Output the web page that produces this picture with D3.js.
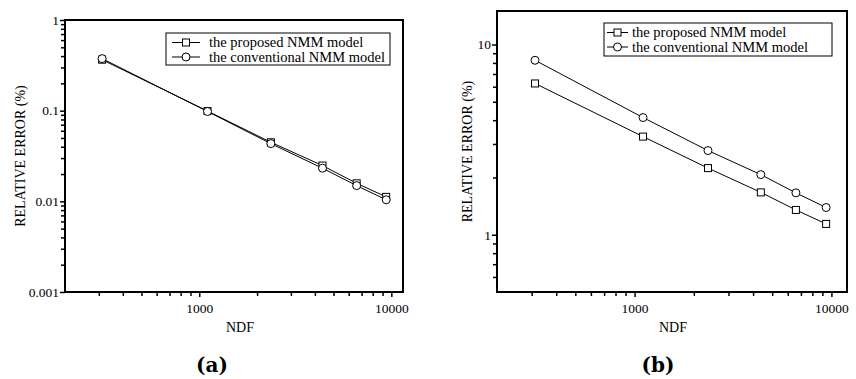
<!DOCTYPE html>
<html>
<head>
<meta charset="utf-8">
<script src="https://cdn.jsdelivr.net/npm/d3@7"></script>
<style>
  body { margin: 0; background: #fff; }
  svg { display: block; }
  text { font-family: "Liberation Serif", "Times New Roman", serif; fill: #000; }
</style>
</head>
<body>
<svg id="chart" width="856" height="379"></svg>
<script>
// NDF values (same for both panels)
var ndf = [312, 1104, 2360, 4380, 6600, 9400]

// panel (a)
var proposedA = [0.365, 0.099, 0.0448, 0.0248, 0.0158, 0.0112]
var conventionalA = [0.375, 0.098, 0.0433, 0.0232, 0.0149, 0.0104]

// panel (b)
var proposedB = [6.24, 3.28, 2.24, 1.67, 1.35, 1.14]
var conventionalB = [8.26, 4.13, 2.77, 2.07, 1.66, 1.39]

var seriesNames = ["the proposed NMM model", "the conventional NMM model"]
var xMajorTicks = [1000, 10000]
var yMajorTicksA = [0.001, 0.01, 0.1, 1]
var yMajorTicksB = [1, 10]
var panelLabels = ["(a)", "(b)"]

var svg = d3.select("#chart")

var panels = [
    {
        x0: 65, x1: 403, y0: 292, y1: 20,
        xDomain: [200, 11500], yDomain: [0.001, 1],
        yTicks: yMajorTicksA,
        series: [proposedA, conventionalA],
        legend: { x: 166, y: 33, w: 224, h: 32, lineL: 6, lineR: 34, textX: 43 },
        yTitleX: 20, ndfX: 240, label: panelLabels[0], labelX: 212
    },
    {
        x0: 497, x1: 847, y0: 292, y1: 11,
        xDomain: [200, 12000], yDomain: [0.5, 15],
        yTicks: yMajorTicksB,
        series: [proposedB, conventionalB],
        legend: { x: 604, y: 23, w: 228, h: 33, lineL: 3, lineR: 24, textX: 28 },
        yTitleX: 467, ndfX: 673, label: panelLabels[1], labelX: 658
    }
]

function minorTicks(domain) {
    var out = []
    var lo = Math.floor(Math.log10(domain[0])), hi = Math.ceil(Math.log10(domain[1]))
    for (var e = lo; e <= hi; e++) {
        for (var m = 2; m <= 9; m++) {
            var v = m * Math.pow(10, e)
            if (v > domain[0] && v < domain[1]) out.push(v)
        }
    }
    return out
}

function drawMarker(g, type, cx, cy) {
    if (type == 0) {
        g.append("rect")
            .attr("x", cx - 3.5).attr("y", cy - 3.5)
            .attr("width", 7).attr("height", 7)
            .attr("fill", "#fff").attr("stroke", "#000").attr("stroke-width", 1)
    } else {
        g.append("circle")
            .attr("cx", cx).attr("cy", cy).attr("r", 4)
            .attr("fill", "#fff").attr("stroke", "#000").attr("stroke-width", 1)
    }
}

panels.forEach(function(p) {
    var x = d3.scaleLog().domain(p.xDomain).range([p.x0, p.x1])
    var y = d3.scaleLog().domain(p.yDomain).range([p.y0, p.y1])

    var g = svg.append("g")

    // x axis: major + minor ticks
    g.append("g").attr("transform", "translate(0," + p.y0 + ")")
        .call(d3.axisBottom(x).tickValues(xMajorTicks).tickFormat(d3.format("d")).tickSize(5).tickPadding(6))
    g.append("g").attr("transform", "translate(0," + p.y0 + ")")
        .call(d3.axisBottom(x).tickValues(minorTicks(p.xDomain).filter(function(v) { return xMajorTicks.indexOf(v) < 0 })).tickFormat("").tickSize(4))

    // y axis
    g.append("g").attr("transform", "translate(" + p.x0 + ",0)")
        .call(d3.axisLeft(y).tickValues(p.yTicks).tickFormat(function(d) { return String(+d.toPrecision(3)) }).tickSize(5).tickPadding(1))
    g.append("g").attr("transform", "translate(" + p.x0 + ",0)")
        .call(d3.axisLeft(y).tickValues(minorTicks(p.yDomain).filter(function(v) { return p.yTicks.indexOf(v) < 0 })).tickFormat("").tickSize(4))

    g.selectAll(".domain").remove()
    g.selectAll(".tick line").attr("stroke", "#000").attr("stroke-width", 1.5)
    g.selectAll(".tick text").style("font-size", "13.5px")
        .style("font-family", "'Liberation Serif', serif").attr("fill", "#000")

    // frame
    g.append("rect")
        .attr("x", p.x0).attr("y", p.y1)
        .attr("width", p.x1 - p.x0).attr("height", p.y0 - p.y1)
        .attr("fill", "none").attr("stroke", "#000").attr("stroke-width", 2)

    // lines and markers
    var line = d3.line()
        .x(function(d, i) { return x(ndf[i]) })
        .y(function(d) { return y(d) })

    p.series.forEach(function(s) {
        g.append("path")
            .datum(s)
            .attr("d", line)
            .attr("fill", "none")
            .attr("stroke", "#000")
            .attr("stroke-width", 1)
    })
    p.series.forEach(function(s, k) {
        s.forEach(function(v, i) {
            drawMarker(g, k, x(ndf[i]), y(v))
        })
    })

    // legend
    var L = p.legend
    var lg = g.append("g").attr("transform", "translate(" + L.x + "," + L.y + ")")
    lg.append("rect")
        .attr("width", L.w).attr("height", L.h)
        .attr("fill", "#fff").attr("stroke", "#000").attr("stroke-width", 1)
    seriesNames.forEach(function(name, k) {
        var cy = 9.5 + k * 14.5
        lg.append("line")
            .attr("x1", L.lineL).attr("x2", L.lineR)
            .attr("y1", cy).attr("y2", cy)
            .attr("stroke", "#000").attr("stroke-width", 1)
        drawMarker(lg, k, (L.lineL + L.lineR) / 2, cy)
        lg.append("text")
            .attr("x", L.textX).attr("y", cy + 4.5)
            .style("font-size", "14.5px")
            .text(name)
    })

    // axis titles
    g.append("text")
        .attr("transform", "translate(" + p.yTitleX + "," + ((p.y0 + p.y1) / 2) + ") rotate(-90)")
        .attr("text-anchor", "middle")
        .attr("dy", "0.35em")
        .style("font-size", "14px")
        .text("RELATIVE ERROR (%)")

    g.append("text")
        .attr("x", p.ndfX).attr("y", 332)
        .attr("text-anchor", "middle")
        .style("font-size", "14px")
        .text("NDF")

    // panel label
    g.append("text")
        .attr("x", p.labelX).attr("y", 372)
        .attr("text-anchor", "middle")
        .style("font-size", "20px")
        .style("font-weight", "bold")
        .style("font-family", "'DejaVu Serif', serif")
        .text(p.label)
})
</script>
</body>
</html>
